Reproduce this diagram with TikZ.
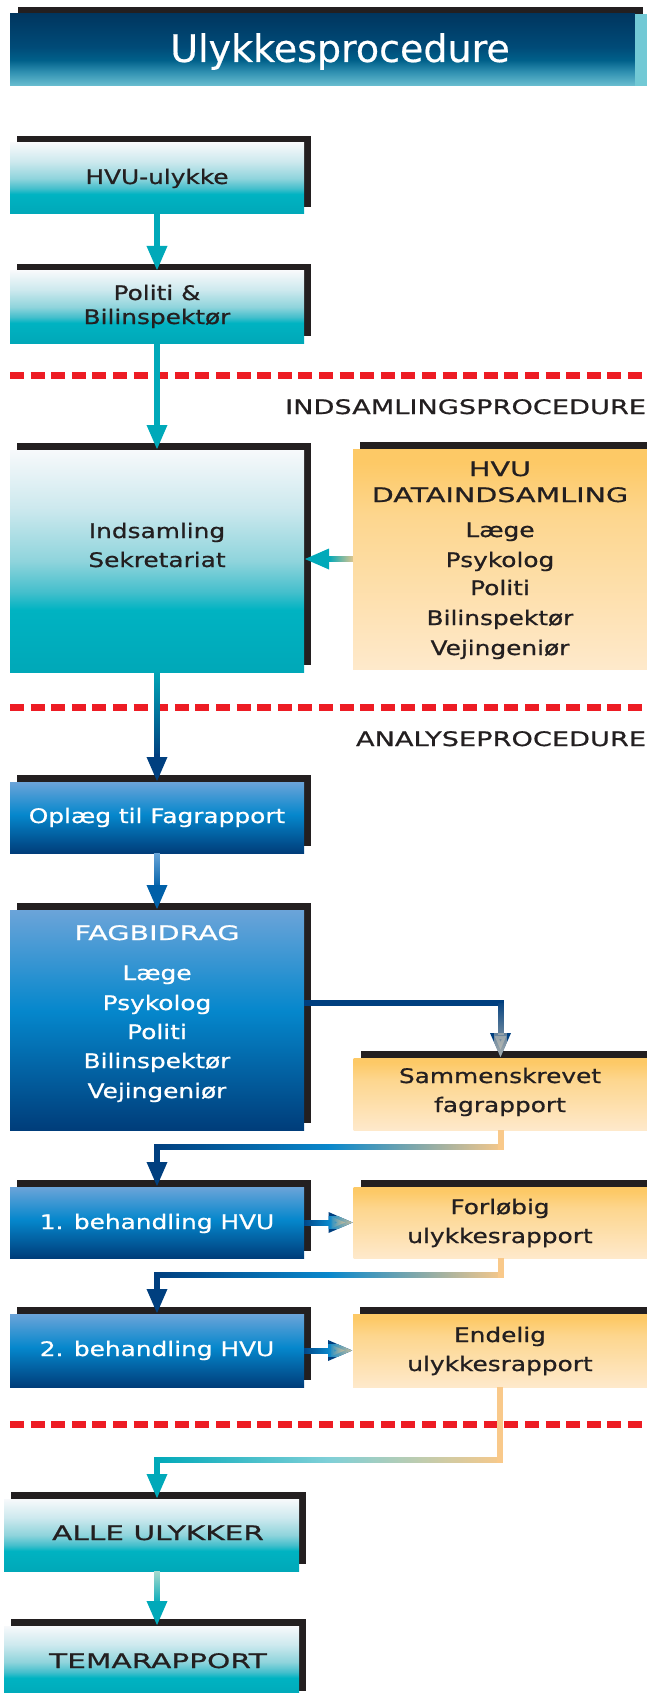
\documentclass[tikz,border=0pt]{standalone}
\usepackage{fontspec}
\setmainfont{DejaVu Sans}
\newfontfamily\bodyfont[FakeStretch=1.24,FakeBold=0.8]{DejaVu Sans}
\newfontfamily\capsAfont[FakeStretch=1.36,FakeBold=0.8]{DejaVu Sans}
\newfontfamily\capsBfont[FakeStretch=1.43,FakeBold=0.8]{DejaVu Sans}
\newfontfamily\capsCfont[FakeStretch=1.48,FakeBold=0.8]{DejaVu Sans}
\newfontfamily\titfont[FakeBold=0.5]{DejaVu Sans}
\newcommand\bodyf{\bodyfont\fontsize{20}{24}\selectfont}
\newcommand\capsA{\capsAfont\fontsize{20}{24}\selectfont}
\newcommand\capsB{\capsBfont\fontsize{20}{24}\selectfont}
\newcommand\capsC{\capsCfont\fontsize{20}{24}\selectfont}
\usetikzlibrary{arrows.meta,calc,fadings,shadows}

\definecolor{shadowc}{HTML}{231F20}
\definecolor{textd}{HTML}{231F20}
\definecolor{tealD}{HTML}{00A8B8}
\definecolor{tealB}{HTML}{00B3C2}
\definecolor{tealMM}{HTML}{44BFCC}
\definecolor{tealM}{HTML}{8FD4DC}
\definecolor{tealL}{HTML}{CDE9EE}
\definecolor{tealW}{HTML}{F7F9FB}
\definecolor{blueT}{HTML}{6BA4D9}
\definecolor{blueM}{HTML}{0587CC}
\definecolor{blueD}{HTML}{003D7A}
\definecolor{oraT}{HTML}{FDC966}
\definecolor{oraM}{HTML}{FDD68E}
\definecolor{oraB}{HTML}{FEE9CB}
\definecolor{titT}{HTML}{00365F}
\definecolor{titM}{HTML}{004B78}
\definecolor{titMM}{HTML}{00608A}
\definecolor{titL}{HTML}{2E8FB0}
\definecolor{titB}{HTML}{6BBFD1}
\definecolor{stripc}{HTML}{72C9D5}
\definecolor{redd}{HTML}{ED1C24}
\definecolor{arrT}{HTML}{00A9B9}
\definecolor{arrN}{HTML}{003F7F}
\definecolor{arrNB}{HTML}{0060A8}
\definecolor{arrB}{HTML}{0A88CC}
\definecolor{arrLB}{HTML}{70AADD}
\definecolor{arrO}{HTML}{F9C98A}
\definecolor{arrG}{HTML}{B8BAB4}
\definecolor{arrLT}{HTML}{7FD0D8}
\definecolor{arrP}{HTML}{B5DFD0}

\pgfdeclareverticalshading{tealsh}{100bp}{color(0bp)=(tealD); color(25bp)=(tealD); color(39bp)=(tealB); color(43bp)=(tealMM); color(50bp)=(tealM); color(62bp)=(tealL); color(75bp)=(tealW); color(100bp)=(tealW)}
\pgfdeclareverticalshading{bluesh}{100bp}{color(0bp)=(blueD); color(25bp)=(blueD); color(52bp)=(blueM); color(75bp)=(blueT); color(100bp)=(blueT)}
\pgfdeclareverticalshading{orash}{100bp}{color(0bp)=(oraB); color(25bp)=(oraB); color(60bp)=(oraM); color(72bp)=(oraT); color(100bp)=(oraT)}
\pgfdeclareverticalshading{titsh}{100bp}{color(0bp)=(titB); color(25bp)=(titB); color(35bp)=(titL); color(43bp)=(titMM); color(52bp)=(titM); color(75bp)=(titT); color(100bp)=(titT)}

\tikzfading[name=fTop, top color=transparent!0, bottom color=transparent!100]
\tikzfading[name=fBot, top color=transparent!100, bottom color=transparent!0]
\tikzfading[name=fRight, left color=transparent!100, right color=transparent!0]
\tikzfading[name=fRightHalf, left color=transparent!100, right color=transparent!0, middle color=transparent!100]
\tikzfading[name=fMid, left color=transparent!100, right color=transparent!0, middle color=transparent!0]

\tikzset{
  bx/.style={rectangle, minimum width=294pt, inner sep=0pt, outer sep=0pt},
  tbox/.style={bx, shade, shading=tealsh},
  bbox/.style={bx, shade, shading=bluesh},
  obox/.style={bx, shade, shading=orash},
  shad/.style={general shadow={fill=shadowc, shadow xshift=7pt, shadow yshift=7pt}},
  ln/.style={anchor=base, inner sep=0pt, outer sep=0pt, text=textd, font=\bodyf},
  wln/.style={ln, text=white},
  hd/.style={anchor=base east, inner sep=0pt, outer sep=0pt, text=textd, font=\capsA},
  conn/.style={line width=6pt, -{Triangle[width=19pt,length=25pt]}},
  seg/.style={line width=6pt},
  dashred/.style={draw=redd, line width=7pt, dash pattern=on 14pt off 6.6pt},
}

\begin{document}
\begin{tikzpicture}[x=1pt,y=-1pt]
\useasboundingbox (0,0) rectangle (647,1693);

% title banner
\node[bx, minimum width=625pt, minimum height=72pt, shade, shading=titsh,
      general shadow={fill=shadowc, shadow xshift=8pt, shadow yshift=7pt}] (title) at (322.5,50) {};
\node[rectangle, inner sep=0pt, minimum width=12pt, minimum height=72pt, fill=stripc] (strip) at (641,50) {};
\node[anchor=base, inner sep=0pt, text=white, font=\titfont\fontsize{38}{44}\selectfont] (titletxt) at (340,62) {Ulykkesprocedure};

% boxes
\node[tbox, shad, minimum height=71pt] (hvu) at (157,178.5) {};
\node[tbox, shad, minimum height=72pt] (pol) at (157,307) {};
\node[tbox, shad, minimum height=222pt] (ind) at (157,561) {};
\node[obox, shad, minimum height=220pt] (dat) at (500,559) {};
\node[bbox, shad, minimum height=71pt] (opl) at (157,817.5) {};
\node[bbox, shad, minimum height=220pt] (fag) at (157,1020) {};
\node[obox, shad, minimum height=72pt] (sam) at (500.5,1094) {};
\node[bbox, shad, minimum height=71pt] (beh1) at (157,1222.5) {};
\node[obox, shad, minimum height=71pt] (for) at (500.5,1222.5) {};
\node[bbox, shad, minimum height=73pt] (beh2) at (157,1350.5) {};
\node[obox, shad, minimum height=73pt] (end) at (500,1350.5) {};
\node[tbox, shad, minimum width=295pt, minimum height=72pt] (alle) at (151.5,1535) {};
\node[tbox, shad, minimum width=295pt, minimum height=72pt] (tema) at (151.5,1662) {};

% dashed separators
\coordinate (dl1) at (10,375);  \coordinate (dr1) at (652,375);
\coordinate (dl2) at (10,707);  \coordinate (dr2) at (652,707);
\coordinate (dl3) at (10,1424); \coordinate (dr3) at (652,1424);
\draw[dashred] (dl1) -- (dr1);
\draw[dashred] (dl2) -- (dr2);
\draw[dashred] (dl3) -- (dr3);

% connectors
\draw[conn, arrT] (hvu) -- (pol);
\draw[conn, arrT] (pol) -- (ind);

\draw[conn, arrN] (ind) -- (opl);
\draw[seg, arrT, path fading=fTop] (ind.south) -- ($(opl.north)+(0,-28)$);

\draw[conn, arrNB] (opl) -- (fag);
\draw[seg, arrLB, path fading=fTop] (opl.south) -- ($(fag.north)+(0,-25)$);

\coordinate (c5) at ($(fag.east)+(0,-17)$);
\coordinate (k5) at (sam.north |- c5);
\draw[conn, arrN] (c5) -| (sam.north);
\draw[conn, arrG, path fading=fBot] (k5) -- (sam.north);

\coordinate (k6) at ($(sam.south)+(0,17)$);
\coordinate (k6b) at (k6 -| beh1.north);
\draw[conn, arrN] (sam.south) -- (k6) -| (beh1.north);
\draw[seg, arrB, path fading=fMid] (k6b) -- (k6);
\draw[seg, arrO, path fading=fRightHalf] (k6b) -- (k6);
\draw[seg, arrO] (sam.south) -- ($(k6)+(0,3)$);

\draw[conn, arrN] (beh1) -- (for);
\draw[conn, arrB, path fading=fMid] (beh1) -- (for);
\draw[conn, arrO!80!arrG, path fading=fRightHalf] (beh1) -- (for);

\coordinate (k8) at ($(for.south)+(0,17)$);
\coordinate (k8b) at (k8 -| beh2.north);
\draw[conn, arrN] (for.south) -- (k8) -| (beh2.north);
\draw[seg, arrB, path fading=fMid] (k8b) -- (k8);
\draw[seg, arrO, path fading=fRightHalf] (k8b) -- (k8);
\draw[seg, arrO] (for.south) -- ($(k8)+(0,3)$);

\draw[conn, arrN] (beh2) -- (end);
\draw[conn, arrB, path fading=fMid] (beh2) -- (end);
\draw[conn, arrO!80!arrG, path fading=fRightHalf] (beh2) -- (end);

\coordinate (k10) at ($(end.south)+(0,73)$);
\coordinate (alleN) at ($(alle.north)+(5.5,0)$);
\coordinate (k10b) at (k10 -| alleN);
\draw[conn, arrT] (end.south) -- (k10) -| (alleN);
\draw[seg, arrLT, path fading=fMid] (k10b) -- (k10);
\draw[seg, arrO, path fading=fRightHalf] (k10b) -- (k10);
\draw[seg, arrO] (end.south) -- ($(k10)+(0,3)$);

\draw[conn, arrT] (dat.west) -- (ind.east |- dat.west);
\draw[seg, arrO, path fading=fRightHalf] (dat.west) -- (ind.east |- dat.west);

\coordinate (alleS) at ($(alle.south)+(5.5,0)$);
\coordinate (temaN) at ($(tema.north)+(5.5,0)$);
\draw[conn, arrT] (alleS) -- (temaN);
\draw[seg, arrP, path fading=fTop] (alleS) -- ($(temaN)+(0,-25)$);

% section headings
\node[hd] (hind) at (646,414) {INDSAMLINGSPROCEDURE};
\node[hd] (hana) at (646,746) {ANALYSEPROCEDURE};

% texts in left column
\node[ln] (t1) at (157,184) {HVU-ulykke};
\node[ln] (t2a) at (157,300) {Politi \&};
\node[ln] (t2b) at (157,324) {Bilinspektør};
\node[ln] (t3a) at (157,538) {Indsamling};
\node[ln] (t3b) at (157,567) {Sekretariat};
\node[wln] (t4) at (157,823) {Oplæg til Fagrapport};
\node[wln, font=\capsB] (t5) at (157,940) {FAGBIDRAG};
\node[wln] (t5a) at (157,980) {Læge};
\node[wln] (t5b) at (157,1010) {Psykolog};
\node[wln] (t5c) at (157,1039) {Politi};
\node[wln] (t5d) at (157,1068) {Bilinspektør};
\node[wln] (t5e) at (157,1098) {Vejingeniør};
\node[wln] (t6) at (157,1229) {1. behandling HVU};
\node[wln] (t7) at (157,1356) {2. behandling HVU};
\node[ln, font=\capsC] (t8) at (158,1540) {ALLE ULYKKER};
\node[ln, font=\capsC] (t9) at (158,1668) {TEMARAPPORT};

% texts in right column
\node[ln, font=\capsB] (r1) at (500,476) {HVU};
\node[ln, font=\capsB] (r2) at (500,502) {DATAINDSAMLING};
\node[ln] (r3) at (500,537) {Læge};
\node[ln] (r4) at (500,567) {Psykolog};
\node[ln] (r5) at (500,595) {Politi};
\node[ln] (r6) at (500,625) {Bilinspektør};
\node[ln] (r7) at (500,655) {Vejingeniør};
\node[ln] (s1) at (500,1083) {Sammenskrevet};
\node[ln] (s2) at (500,1112) {fagrapport};
\node[ln] (f1) at (500,1214) {Forløbig};
\node[ln] (f2) at (500,1243) {ulykkesrapport};
\node[ln] (e1) at (500,1342) {Endelig};
\node[ln] (e2) at (500,1371) {ulykkesrapport};
\end{tikzpicture}
\end{document}
